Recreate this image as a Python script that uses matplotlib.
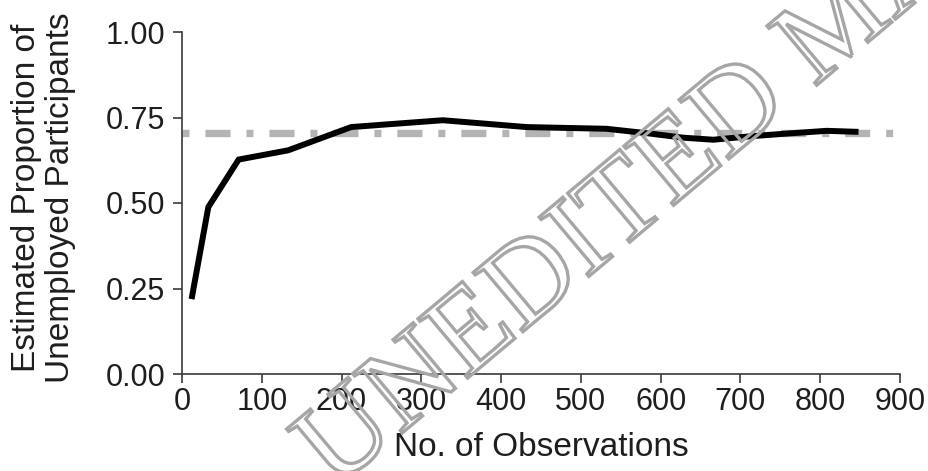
import matplotlib
matplotlib.use("Agg")
import matplotlib.pyplot as plt
import matplotlib.patheffects as pe

plt.rcParams['font.family'] = ['Liberation Sans', 'DejaVu Sans']

# estimated proportion as the number of observations grows
n_obs = [12, 33, 71, 133, 212, 269, 327, 432, 532, 587, 628, 666, 712, 758, 808, 848]
prop_unemployed = [0.219, 0.488, 0.627, 0.654, 0.722, 0.732, 0.742, 0.722, 0.717,
                   0.703, 0.691, 0.685, 0.695, 0.703, 0.711, 0.708]
true_prop = 0.706

x_ticks = [0, 100, 200, 300, 400, 500, 600, 700, 800, 900]
y_ticks = [0.0, 0.25, 0.5, 0.75, 1.0]
y_ticklabels = ['0.00', '0.25', '0.50', '0.75', '1.00']

text_col = '#1e1e1e'
axis_col = '#3a3a3a'

fig = plt.figure(figsize=(9.29, 4.71), dpi=100)
ax = fig.add_axes([182 / 929, 1 - 374 / 471, 718 / 929, 342 / 471])

# reference level
ax.plot([0, 900], [true_prop, true_prop], color='#b4b4b4', lw=5.3,
        dashes=(0.95, 2.17, 3.4, 2.17), dash_capstyle='butt', zorder=2)
ax.plot(n_obs, prop_unemployed, color='black', lw=4.3,
        solid_joinstyle='round', solid_capstyle='butt', zorder=3)

ax.set_xlim(0, 900)
ax.set_ylim(0, 1)
ax.set_xticks(x_ticks)
ax.set_yticks(y_ticks)
ax.set_yticklabels(y_ticklabels)

for side in ['top', 'right']:
    ax.spines[side].set_visible(False)
for side in ['left', 'bottom']:
    ax.spines[side].set_color(axis_col)
    ax.spines[side].set_linewidth(1.2)
ax.tick_params(axis='both', direction='out', length=6.5, width=1.2,
               color=axis_col, labelsize=22, labelcolor=text_col)
ax.tick_params(axis='y', pad=5.5)
ax.tick_params(axis='x', pad=3)

fig.text(541 / 929, 1 - 456 / 471, 'No. of Observations', fontsize=24,
         color=text_col, ha='center', va='baseline')
fig.text(43.5 / 929, 1 - 198 / 471, 'Estimated Proportion of\nUnemployed Participants',
         fontsize=24, color=text_col, rotation=90, ha='center', va='center',
         multialignment='center', linespacing=1.15)

# diagonal watermark, outlined letters only
fig.text(0.36, -0.04, 'UNEDITED MANUSCRIPT', fontsize=85,
         family='Liberation Serif', color='#a6a6a6', rotation=40,
         rotation_mode='anchor', ha='left', va='baseline', zorder=10,
         path_effects=[pe.PathPatchEffect(edgecolor='#a6a6a6', facecolor='none',
                                          linewidth=2.4)])

fig.savefig('out.png', dpi=100)
